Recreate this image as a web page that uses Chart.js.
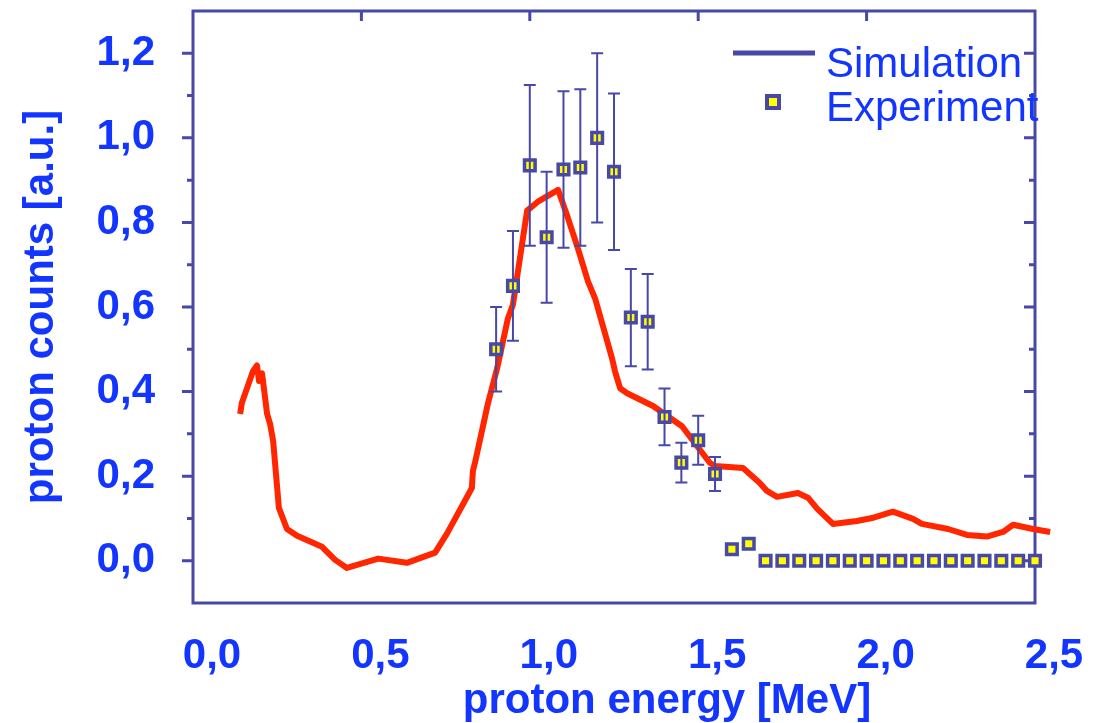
<!DOCTYPE html>
<html>
<head>
<meta charset="utf-8">
<title>proton counts</title>
<script src="https://cdn.jsdelivr.net/npm/chart.js@4.4.1/dist/chart.umd.min.js"></script>
<style>
    body { margin: 0; background: #fff; }
    canvas { display: block; }
</style>
</head>
<body>
<canvas id="protonChart" width="1093" height="723"></canvas>
<script>
// Simulation curve (energy in MeV, counts in a.u.)
const simEnergy = [0.14, 0.145, 0.178, 0.19, 0.196, 0.205, 0.22, 0.229, 0.238, 0.255, 0.279, 0.309,
    0.383, 0.422, 0.457, 0.55, 0.635, 0.719, 0.754, 0.828, 0.831, 0.837, 0.876, 0.903, 0.935, 0.95,
    0.992, 1.024, 1.084, 1.11, 1.143, 1.173, 1.194, 1.244, 1.253, 1.268, 1.289, 1.366, 1.452, 1.535,
    1.55, 1.633, 1.683, 1.704, 1.734, 1.796, 1.826, 1.853, 1.9, 1.971, 2.016, 2.078, 2.138, 2.164,
    2.242, 2.298, 2.357, 2.405, 2.435, 2.494, 2.545];
const simCounts = [0.347, 0.373, 0.448, 0.462, 0.425, 0.443, 0.347, 0.323, 0.283, 0.125, 0.075, 0.059,
    0.033, 0.002, -0.017, 0.005, -0.005, 0.019, 0.064, 0.172, 0.212, 0.231, 0.373, 0.455, 0.573, 0.606,
    0.828, 0.849, 0.877, 0.818, 0.738, 0.66, 0.62, 0.479, 0.448, 0.408, 0.396, 0.366, 0.318, 0.231,
    0.224, 0.219, 0.184, 0.165, 0.151, 0.16, 0.149, 0.123, 0.087, 0.094, 0.101, 0.116, 0.099, 0.087,
    0.075, 0.061, 0.057, 0.068, 0.085, 0.075, 0.068];

// Experiment points with error bars
const expEnergy = [0.9, 0.95, 1.0, 1.05, 1.1, 1.15, 1.2, 1.25, 1.3, 1.35, 1.4, 1.45, 1.5, 1.55, 1.6, 1.65,
    1.7, 1.75, 1.8, 1.85, 1.9, 1.95, 2.0, 2.05, 2.1, 2.15, 2.2, 2.25, 2.3, 2.35, 2.4, 2.45, 2.5];
const expCounts = [0.5, 0.65, 0.935, 0.765, 0.925, 0.93, 1.0, 0.92, 0.575, 0.565, 0.34, 0.232, 0.285, 0.205, 0.027, 0.04,
    0, 0, 0, 0, 0, 0, 0, 0, 0, 0, 0, 0, 0, 0, 0, 0, 0];
const expError = [0.1, 0.13, 0.19, 0.155, 0.185, 0.185, 0.2, 0.185, 0.115, 0.113, 0.067, 0.047, 0.058, 0.04, null, null,
    null, null, null, null, null, null, null, null, null, null, null, null, null, null, null, null, null];

// Axis ranges and ticks
const xTicks = [0, 0.5, 1.0, 1.5, 2.0, 2.5];
const yMin = -0.1, yMax = 1.3;

const legendItems = ["Simulation", "Experiment"];
const axisTitles = { x: "proton energy [MeV]", y: "proton counts [a.u.]" };

const frameColor = "#4848a8";
const textColor = "#1236ff";
const fmt = v => v.toFixed(1).replace(".", ",");

// Frame with inner/outer ticks
const framePlugin = {
    id: "frame",
    beforeDatasetsDraw(chart) {
        const { ctx, chartArea: a, scales } = chart;
        ctx.save();
        ctx.strokeStyle = frameColor;
        ctx.lineWidth = 3;
        ctx.strokeRect(a.left, a.top, a.right - a.left, a.bottom - a.top);
        scales.y.ticks.forEach(t => {
            const k = Math.round(t.value * 10);
            if (t.value <= yMin + 0.01 || t.value >= yMax - 0.01) return;
            const py = scales.y.getPixelForValue(t.value);
            const len = k % 2 === 0 ? 11 : 6;
            ctx.beginPath();
            ctx.moveTo(a.left - len, py); ctx.lineTo(a.left, py);
            ctx.moveTo(a.right - len, py); ctx.lineTo(a.right, py);
            ctx.stroke();
        });
        scales.x.ticks.forEach(t => {
            if (t.value <= 0 || t.value >= 2.5) return;
            const px = scales.x.getPixelForValue(t.value);
            ctx.beginPath();
            ctx.moveTo(px, a.top); ctx.lineTo(px, a.top + 10);
            ctx.stroke();
        });
        ctx.restore();
    },
    afterDatasetsDraw(chart) {
        const { ctx, scales } = chart;
        // error bars on top of the markers
        ctx.save();
        ctx.strokeStyle = frameColor;
        ctx.lineWidth = 2;
        expEnergy.forEach((e, i) => {
            if (expError[i] == null) return;
            const px = scales.x.getPixelForValue(e);
            const hi = scales.y.getPixelForValue(expCounts[i] + expError[i]);
            const lo = scales.y.getPixelForValue(expCounts[i] - expError[i]);
            ctx.beginPath();
            ctx.moveTo(px, hi); ctx.lineTo(px, lo);
            ctx.moveTo(px - 6, hi); ctx.lineTo(px + 6, hi);
            ctx.moveTo(px - 6, lo); ctx.lineTo(px + 6, lo);
            ctx.stroke();
        });
        ctx.restore();
    },
    afterDraw(chart) {
        const { ctx } = chart;
        ctx.save();
        // x axis title
        ctx.fillStyle = textColor;
        ctx.font = "bold 42px 'Liberation Sans', Arial, sans-serif";
        ctx.textAlign = "center";
        ctx.textBaseline = "alphabetic";
        ctx.fillText(axisTitles.x, 667, 713);

        // legend
        ctx.strokeStyle = frameColor;
        ctx.lineWidth = 5;
        ctx.beginPath();
        ctx.moveTo(733, 53); ctx.lineTo(815, 53);
        ctx.stroke();
        ctx.fillStyle = frameColor;
        ctx.fillRect(765, 94, 16, 16);
        ctx.fillStyle = "#ffff00";
        ctx.fillRect(769, 98, 8, 8);
        ctx.fillStyle = textColor;
        ctx.font = "42px 'Liberation Sans', Arial, sans-serif";
        ctx.textAlign = "left";
        ctx.fillText(legendItems[0], 826, 77);
        ctx.fillText(legendItems[1], 826, 121);
        ctx.restore();
    }
};

const ctx = document.getElementById("protonChart").getContext("2d");
new Chart(ctx, {
    type: "scatter",
    data: {
        datasets: [
            {
                label: legendItems[1],
                data: expEnergy.map((e, i) => ({ x: e, y: expCounts[i] })),
                pointStyle: "rect",
                pointRadius: 7.5,
                pointBorderWidth: 3.5,
                pointBorderColor: frameColor,
                pointBackgroundColor: "#ffff00",
                showLine: false,
                clip: false,
                order: 0
            },
            {
                label: legendItems[0],
                data: simEnergy.map((e, i) => ({ x: e, y: simCounts[i] })),
                showLine: true,
                borderColor: "#ff2600",
                borderWidth: 6,
                borderJoinStyle: "round",
                pointRadius: 0,
                tension: 0,
                clip: false,
                order: 1
            }
        ]
    },
    options: {
        responsive: false,
        animation: false,
        devicePixelRatio: 1,
        layout: { padding: { top: 9, right: 58, left: 0, bottom: 0 } },
        plugins: { legend: { display: false }, tooltip: { enabled: false } },
        scales: {
            x: {
                type: "linear",
                min: 0,
                max: 2.5,
                afterBuildTicks: s => { s.ticks = xTicks.map(v => ({ value: v })); },
                afterFit: s => { s.height = 120; s.paddingLeft = 0; s.paddingRight = 0; },
                grid: { display: false, drawTicks: false },
                border: { display: false },
                ticks: {
                    color: textColor,
                    font: { family: "'Liberation Sans', Arial, sans-serif", size: 42, weight: "bold" },
                    padding: 28,
                    labelOffset: 19,
                    maxRotation: 0,
                    callback: v => fmt(v)
                }
            },
            y: {
                type: "linear",
                min: yMin,
                max: yMax,
                afterFit: s => { s.width = 193; s.paddingTop = 0; s.paddingBottom = 0; },
                grid: { display: false, drawTicks: false },
                border: { display: false },
                title: {
                    display: true,
                    text: axisTitles.y,
                    color: textColor,
                    font: { family: "'Liberation Sans', Arial, sans-serif", size: 42, weight: "bold" },
                    padding: { top: 16, bottom: 0 }
                },
                ticks: {
                    stepSize: 0.1,
                    color: textColor,
                    font: { family: "'Liberation Sans', Arial, sans-serif", size: 42, weight: "bold" },
                    padding: 38,
                    autoSkip: false,
                    callback: v => {
                        const k = Math.round(v * 10);
                        return (k >= 0 && k <= 12 && k % 2 === 0) ? fmt(k / 10) : "";
                    }
                }
            }
        }
    },
    plugins: [framePlugin]
});
</script>
</body>
</html>
